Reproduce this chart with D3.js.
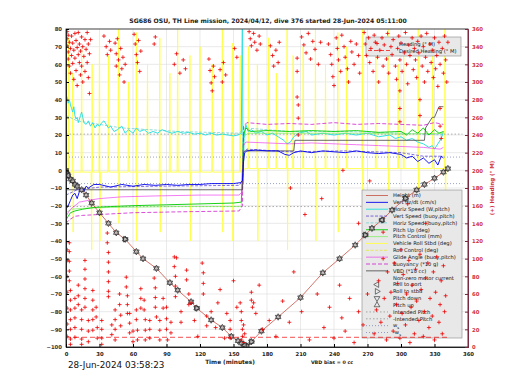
<!DOCTYPE html>
<html>
<head>
<meta charset="utf-8">
<script src="https://cdn.jsdelivr.net/npm/d3@7"></script>
<style>
  body { margin: 0; background: #fff; }
  text { font-family: "DejaVu Sans", sans-serif; }
</style>
</head>
<body>
<div id="chart"></div>
<script>
// ---- data (time in minutes) ----
const timeTicks = [0, 30, 60, 90, 120, 150, 180, 210, 240, 270, 300, 330, 360];
const valueTicks = [-100, -90, -80, -70, -60, -50, -40, -30, -20, -10, 0, 10, 20, 30, 40, 50, 60, 70, 80];
const headingTicks = [0, 20, 40, 60, 80, 100, 120, 140, 160, 180, 200, 220, 240, 260, 280, 300, 320, 340, 360];

const heightM = [[0,0],[1,-2],[2,-3],[4,-5],[6,-6],[8,-8],[10,-9],[14,-11],[18,-14],[23,-18.5],[30,-24],[38,-30],[45,-35.3],[53,-39],[63,-46],[69,-50],[81,-55.5],[93,-63.6],[100,-67.8],[112,-74.4],[117,-78],[130,-84.7],[140,-89],[148,-94],[154,-96.5],[157,-97.8],[160,-99],[162,-99.5],[166,-97],[175,-91],[190,-83],[210,-72],[230,-58],[245,-50],[259,-42.3],[268,-36.6],[274,-32.8],[283,-28.1],[292,-22.5],[304,-15.9],[314,-11.1],[321,-8],[330,-4.5],[338,-1],[342,1]];
const rollStbdMarks = [[53,-39],[117,-78],[166,-97],[268,-36.6],[304,-15.9]];
const rollPortMarks = [[2,-3],[160,-99],[283,-28.1]];

const vertDzDt = [[0,-22],[2,-20],[4,-17],[6,-14],[8,-13],[10,-16],[12,-12],[14,-10],[16,-12],[18,-9],[20,-10],[25,-8],[30,-8],[40,-9.5],[50,-8],[60,-9],[70,-8],[80,-8.5],[90,-8],[100,-8.5],[110,-8],[120,-8],[130,-7.5],[140,-7.5],[150,-7.5],[156,-7],[158,-6],[159,5],[160,10],[162,11],[170,11.5],[180,11],[190,11],[196,9],[200,8.5],[204,10],[210,11],[220,10],[230,11],[240,10.5],[250,10],[260,11],[270,10],[280,9.5],[290,10],[300,9],[305,7],[310,8],[315,5],[320,7],[325,4],[330,6],[333,3],[336,8],[338,7]];
const horizSpdW = [[0,43],[1,41],[2,38],[3,40],[4,37],[5,35],[6,33],[7,36],[8,31],[9,29],[10,30],[11,27],[12,29],[13,31],[14,33],[15,30],[16,27],[18,26],[20,28],[22,25],[24,27],[26,24],[28,26],[30,25],[32,27],[34,28],[36,26],[38,24],[40,25],[43,22],[46,23],[50,25],[53,21],[56,23],[60,21],[63,24],[66,22],[70,23],[74,21],[78,22],[82,21],[86,23],[90,22],[95,21],[100,22],[105,21],[110,21.5],[115,20.5],[120,21],[125,20],[130,21],[135,20],[140,20.5],[145,20],[150,19.5],[154,20],[157,21],[158,95],[158.6,-8],[159.5,18],[161,26],[163,22],[166,23],[170,21],[175,22],[180,20],[185,21],[190,19],[195,17],[198,15],[201,16],[204,19],[208,21],[215,22],[220,20],[230,21],[240,20],[250,21],[260,20],[270,21],[280,19],[290,20],[295,18],[300,19],[305,17],[310,18],[315,16],[320,15],[325,13],[328,14],[330,12],[333,15],[336,18],[338,22]];
const vertSpdBuoy = [[0,-14],[10,-11],[30,-9.5],[80,-9],[155,-8.5],[158,-6],[159,10],[162,12],[200,10.5],[250,11],[300,10],[320,8],[338,8]];
const horizSpdBuoy = [[0,31],[10,28],[20,27],[50,24],[100,22],[155,21],[160,24],[200,22],[250,22],[300,21],[338,20]];
const pitchUp = [[0,-28],[2,-26],[4,-24],[8,-23],[15,-22],[25,-21],[40,-20.5],[60,-20],[90,-19.5],[120,-19],[150,-18.5],[157,-18],[158,0],[159,20],[161,24],[165,22],[180,22.5],[200,22],[220,22.5],[240,22],[260,22.5],[280,21.5],[300,22],[305,20],[310,23],[315,21],[320,24],[325,20],[330,23],[334,21],[338,22]];
const pitchCtl = [[0,-24],[5,-22],[15,-21.5],[40,-21],[100,-20.5],[157,-20.5],[158,2],[159,19],[163,21],[200,21],[260,21],[300,20.5],[338,21]];
const rollStbd = [[0,-40],[0.5,60],[1,-2],[2,-1],[2.3,75],[2.6,-1],[5.5,-1],[6,55],[6.4,-35],[6.8,-1],[13.5,-1],[14,70],[14.4,-1],[22.5,-1],[23,-45],[23.4,60],[23.8,-1],[29.5,-1],[30,80],[30.4,-40],[30.8,-1],[37.5,-1],[38,65],[38.4,-1],[46.5,-1],[47,80],[47.4,-30],[47.8,-1],[55.5,-1],[56,50],[56.4,-1],[62.5,-1],[63,78],[63.4,-40],[63.8,-1],[72.5,-1],[73,60],[73.4,-1],[83.5,-1],[84,75],[84.4,-35],[84.8,-1],[92.5,-1],[93,55],[93.4,-1],[99.5,-1],[100,80],[100.4,-1],[110.5,-1],[111,65],[111.4,-40],[111.8,-1],[119.5,-1],[120,70],[120.4,-1],[130.5,-1],[131,60],[131.4,-1],[139.5,-1],[140,80],[140.4,-35],[140.8,-1],[148.5,-1],[149,72],[149.4,-40],[149.8,-1],[155.5,-1],[156,65],[156.4,-1],[158,-1],[160,1],[163,1],[163.4,70],[163.8,1],[171,1],[171.4,60],[171.8,-40],[172.2,1],[181,1],[181.4,75],[181.8,1],[188,1],[188.4,55],[188.8,1],[197.5,1],[198,80],[198.4,-45],[198.8,1],[203,1],[203.4,65],[203.8,1],[212,1],[212.4,70],[212.8,1],[223,1],[223.4,80],[223.8,-40],[224.2,1],[232,1],[232.4,60],[232.8,1],[243,1],[243.4,78],[243.8,-35],[244.2,1],[251,1],[251.4,70],[251.8,1],[265,1],[265.4,80],[265.8,-45],[266.2,1],[277,1],[277.4,65],[277.8,1],[288,1],[288.4,80],[288.8,-40],[289.2,1],[297,1],[297.4,60],[297.8,1],[302,1],[302.4,75],[302.8,1],[315,1],[315.4,80],[315.8,-40],[316.2,1],[328,1],[328.4,70],[328.8,1],[339,1],[339.4,80],[339.8,-35],[340.2,1],[341,1]];
const glideAngle = [[0,-26],[2,-24],[4,-22],[8,-20],[12,-18],[20,-17],[30,-16],[50,-15],[80,-14.5],[120,-14],[155,-14],[158,-12],[159,14],[161,16],[180,15.5],[200,15],[220,15.5],[240,15],[260,14.5],[280,14],[300,13.5],[320,13],[335,12],[338,13]];
const buoyancy = [[0,-30],[3,-28],[8,-26],[15,-25.5],[30,-25],[60,-24],[100,-23.5],[155,-23],[158,-20],[159,25],[162,27],[180,26],[200,26.5],[220,26],[240,27],[260,26],[280,26.5],[300,26],[320,25.5],[330,27],[338,26]];
const vbd = [[0,-11],[158,-11],[159,10],[160,11],[204,11],[205,17],[321,17],[322,24],[328,30],[330,30],[334,36],[338,36]];
const intendedPitch = [[0,20.5],[355,20.5]];
const negIntendedPitch = [[0,-20.5],[355,-20.5]];
const ws = [[0,7.5],[355,7.5]];
const negWs = [[0,-7.5],[355,-7.5]];

const desiredHeading = [[0,11],[342,11]];
const heading = [
  [1,357],[1,349],[1,341],[2,353],[2,334],[2,326],[3,345],[3,318],[4,338],[4,310],[5,352],[5,330],[6,344],[6,321],[7,336],[7,303],[8,355],[8,327],[9,347],[9,313],[10,339],[10,296],[11,331],[11,356],[12,322],[12,343],[13,308],[13,335],[14,351],[14,318],[15,340],[15,300],[16,329],[17,348],[17,312],[18,337],[19,356],[19,322],[20,343],[20,305],[21,332],[21,287],[22,348],
  [34,352],[36,340],[37,331],[39,346],[40,336],
  [44,344],[45,332],[45,318],[46,349],[47,325],[48,308],[49,338],[50,315],[51,328],[52,300],[53,320],
  [61,354],[62,343],[63,331],[64,322],[65,347],[66,312],[67,335],
  [79,343],[80,351],[97,320],[99,332],[102,310],[105,325],[107,315],
  [128,326],[129,313],[130,299],[131,290],[132,318],[133,306],[138,314],[140,300],[141,322],[143,308],[151,338],[153,328],
  [1,110],[1,98],[1,80],[1,62],[1,44],[1,26],[1,12],
  [3,118],[3,108],[3,97],[3,86],[3,75],[4,64],[4,53],[4,42],[4,31],[4,20],[4,9],[4,3],
  [8,55],[8,44],[8,33],[8,22],[8,11],[11,70],[11,58],[11,48],[14,42],[14,31],[14,20],[14,9],[14,3],
  [17,98],[17,88],[17,77],[17,66],[17,55],[17,45],[20,30],[20,18],[20,6],[24,64],[24,53],[24,42],[24,31],[24,19],
  [27,45],[27,34],[28,22],[28,10],[32,30],[32,20],[32,10],[32,3],[37,129],[37,118],[38,107],[38,96],[38,85],[38,74],[38,63],[38,57],
  [41,25],[41,14],[44,42],[44,31],[44,20],[44,8],[48,60],[48,48],[49,36],[49,24],[54,79],[54,68],[55,58],[55,48],[55,38],[57,38],[57,27],[57,16],
  [60,18],[60,6],[63,42],[63,31],[64,19],[64,8],[67,66],[67,55],[67,44],[70,53],[70,42],[71,31],[71,19],[71,8],
  [75,30],[75,20],[75,10],[79,78],[80,67],[80,56],[80,45],[81,34],[84,30],[84,19],[84,8],[87,55],[87,44],[90,45],[90,32],[90,20],[91,8],
  [94,28],[94,16],[97,102],[97,91],[98,80],[98,69],[98,57],[99,101],[103,40],[103,28],[108,87],[108,76],[110,60],[110,48],[112,50],[115,30],[118,12],
  [122,95],[123,84],[123,72],[123,60],[126,35],[126,24],[130,40],[134,22],[136,50],[138,65],[142,10],[144,38],[147,30],[147,20],[147,10],[150,75],[153,45],
  [156,50],[157,40],[157,30],[158,20],[158,12],[159,5],[159,25],[160,15],[157,8],[166,62],[166,53],[167,45],
  [164,357],[165,349],[166,341],[168,355],[169,345],[171,336],[173,352],[174,343],
  [183,341],[185,330],[186,318],[188,336],[190,322],[191,345],
  [207,327],[207,312],[207,283],[208,274],[208,259],[208,240],
  [211,351],[213,342],[215,333],[217,355],[219,326],[221,346],[223,337],[226,320],[228,345],
  [235,343],[237,331],[238,320],[239,306],[240,296],[242,350],[243,338],[244,325],[246,312],[247,353],[249,340],[250,328],[252,315],[253,300],[255,346],[256,334],[258,320],[260,343],[262,330],[263,310],
  [267,356],[268,343],[269,330],[271,350],[272,322],[273,338],[275,312],[276,353],[277,345],[279,328],[280,300],[281,336],[283,350],[284,318],[285,342],[287,326],[288,355],[289,310],[291,340],[292,331],[293,348],[295,318],[296,303],[297,338],[298,352],[299,325],[299,290],[299,270],[299,255],[300,344],[301,312],[303,333],[304,356],[305,320],[306,298],[307,342],[308,330],[310,350],[311,314],[312,338],[313,325],[314,305],[315,346],[316,333],[317,280],[317,262],[318,352],[319,318],[320,340],[321,300],[322,328],[323,355],[324,312],[326,343],[327,322],[328,336],[329,305],[330,350],[331,315],[332,330],[333,295],[334,345],[335,320],[335,270],[335,250],[336,236],[337,338],[338,310],[339,352],[340,325],[341,300],[342,345],
  [168,50],[170,38],[173,70],[176,20],[182,30],[188,12],[194,52],[200,28],[204,85],[211,40],[218,8],[225,60],[231,22],[236,45],[240,10],[245,70],[247,33],[250,18],[254,55],[258,5],[262,40],[266,25],[270,60],
  [276,15],[278,42],[280,75],[282,28],[284,100],[285,55],[287,8],[288,85],[290,35],[291,62],[293,18],[294,95],[296,48],[297,72],[299,10],[300,110],[301,38],[302,82],[304,25],[305,60],[307,98],[308,5],[309,45],[310,70],[312,15],[313,88],[314,52],[316,30],[317,105],[318,65],[320,12],[321,40],[322,78],[324,95],[325,22],[326,55],[328,35],[329,85],[330,8],[331,62],[332,102],[334,28],[335,48],[336,75],[337,15],[338,92],[339,40],[340,58],
  [201,180],[214,150],[229,168],[248,200],[262,140],[272,188],[284,130],[306,162],[322,140]
];

const legendLabels = ["Height (m)", "Vert dz/dt (cm/s)", "Horiz Speed (W,pitch)", "Vert Speed (buoy,pitch)",
  "Horiz Speed (buoy,pitch)", "Pitch Up (deg)", "Pitch Control (mm)", "Vehicle Roll Stbd (deg)", "Roll Control (deg)",
  "Glide Angle (buoy,pitch)", "Buoyancy (*10 g)", "VBD (*10 cc)", "Non-zero motor current", "Roll to port",
  "Roll to stbd", "Pitch down", "Pitch up", "Intended Pitch", "-Intended Pitch", "w", "-w"];
const headingLegend = ["Heading (\u00b0 M)", "Desired Heading (\u00b0 M)"];

// ---- layout ----
const W = 520, H = 390;
const L = 66, R = 468, T = 29, B = 347;

const svg = d3.select("#chart").append("svg")
    .attr("width", W).attr("height", H);

const x = d3.scaleLinear().domain([0, 360]).range([L, R]);
const y = d3.scaleLinear().domain([-100, 80]).range([B, T]);
const yh = d3.scaleLinear().domain([0, 360]).range([B, T]);

svg.append("clipPath").attr("id", "clip").append("rect")
    .attr("x", L).attr("y", T).attr("width", R - L).attr("height", B - T);

// grid
svg.append("g").selectAll("line").data(timeTicks).join("line")
    .attr("x1", d => x(d)).attr("x2", d => x(d)).attr("y1", T).attr("y2", B)
    .attr("stroke", "#dcdcdc").attr("stroke-width", 0.6);
svg.append("g").selectAll("line").data(valueTicks).join("line")
    .attr("x1", L).attr("x2", R).attr("y1", d => y(d)).attr("y2", d => y(d))
    .attr("stroke", "#dcdcdc").attr("stroke-width", 0.6);

const line = d3.line().x(d => x(d[0])).y(d => y(d[1]));
const linesG = svg.append("g").attr("clip-path", "url(#clip)");

function addLine(data, color, width, dash) {
    linesG.append("path").datum(data)
        .attr("fill", "none").attr("stroke", color).attr("stroke-width", width)
        .attr("stroke-dasharray", dash || null)
        .attr("d", line);
}

const styles = {
    height: ["#c0392b", 0.7, null],
    dzdt: ["#0000ee", 0.9, null],
    hspdW: ["#33e0e0", 1.0, null],
    vspdB: ["#4b2fd0", 0.7, "3,1.5"],
    hspdB: ["#66cccc", 0.7, "3,1.5"],
    pitch: ["#00cc00", 0.9, null],
    pitchCtl: ["#77ee55", 0.7, null],
    roll: ["#ffff44", 0.9, null],
    rollCtl: ["#e6e600", 0.6, "3,1.5"],
    glide: ["#ee44ee", 0.7, null],
    buoy: ["#cc00cc", 0.7, "4,2"],
    vbd: ["#444444", 0.8, null],
    intended: ["#777777", 0.6, "1.5,2"],
    ws: ["#5566aa", 0.6, "1,2"]
};

addLine(rollStbd, ...styles.roll);
addLine(intendedPitch, ...styles.intended);
addLine(negIntendedPitch, ...styles.intended);
addLine(ws, ...styles.ws);
addLine(negWs, ...styles.ws);
addLine(horizSpdBuoy, ...styles.hspdB);
addLine(horizSpdW, ...styles.hspdW);
addLine(pitchCtl, ...styles.pitchCtl);
addLine(pitchUp, ...styles.pitch);
addLine(buoyancy, ...styles.buoy);
addLine(glideAngle, ...styles.glide);
addLine(vbd, ...styles.vbd);
addLine(vertSpdBuoy, ...styles.vspdB);
addLine(vertDzDt, ...styles.dzdt);

// ---- legend (left-axis series) ----
const lg = svg.append("g");
lg.append("rect").attr("x", 362).attr("y", 190).attr("width", 100).attr("height", 148)
    .attr("fill", "#e8e8e8").attr("stroke", "#888").attr("stroke-width", 0.6);
const legendStyle = [styles.height, styles.dzdt, styles.hspdW, styles.vspdB, styles.hspdB, styles.pitch,
    styles.pitchCtl, styles.roll, styles.rollCtl, styles.glide, styles.buoy, styles.vbd,
    null, "left", "right", "down", "up", styles.intended, styles.intended, styles.ws, styles.ws];

const tri = d3.symbol().type(d3.symbolTriangle).size(14);
const rot = {up: 0, right: 90, down: 180, left: 270};

legendLabels.forEach((lab, i) => {
    const yy = 195.5 + i * 6.85;
    const st = legendStyle[i];
    if (Array.isArray(st)) {
        lg.append("line").attr("x1", 366).attr("x2", 388).attr("y1", yy).attr("y2", yy)
            .attr("stroke", st[0]).attr("stroke-width", st[1]).attr("stroke-dasharray", st[2]);
    } else if (typeof st === "string") {
        lg.append("path").attr("d", tri)
            .attr("transform", `translate(377,${yy}) rotate(${rot[st]})`)
            .attr("fill", "none").attr("stroke", "#222").attr("stroke-width", 0.6);
    }
    const t = lg.append("text").attr("x", 393).attr("y", yy + 1.8)
        .attr("font-size", 5.2).attr("fill", "#111").text(lab);
    if (i >= 19) t.append("tspan").attr("font-size", 3.6).attr("dy", 1.2).text("s");
});

// ---- depth V with pitch / roll markers ----
const marksG = svg.append("g").attr("clip-path", "url(#clip)");
marksG.append("path").datum(heightM)
    .attr("fill", "none").attr("stroke", styles.height[0]).attr("stroke-width", styles.height[1])
    .attr("d", line);

function marks(data, dir) {
    marksG.append("g").selectAll("path").data(data).join("path")
        .attr("d", tri)
        .attr("transform", d => `translate(${x(d[0])},${y(d[1])}) rotate(${rot[dir]})`)
        .attr("fill", "#bbb").attr("fill-opacity", 0.5)
        .attr("stroke", "#111").attr("stroke-width", 0.6);
}
marks(heightM, "down");
marks(heightM, "up");
marks(rollStbdMarks, "right");
marks(rollPortMarks, "left");

// ---- heading legend ----
const hg = svg.append("g");
hg.append("rect").attr("x", 366).attr("y", 37).attr("width", 95).attr("height", 19)
    .attr("fill", "#e8e8e8").attr("stroke", "#888").attr("stroke-width", 0.6);
hg.append("path").attr("d", "M375,43.5h4M377,41.5v4").attr("stroke", "#e00").attr("stroke-width", 0.8);
hg.append("line").attr("x1", 368).attr("x2", 392).attr("y1", 50.5).attr("y2", 50.5)
    .attr("stroke", "#e00").attr("stroke-width", 0.7).attr("stroke-dasharray", "4,2");
headingLegend.forEach((lab, i) => {
    hg.append("text").attr("x", 399).attr("y", 45.5 + i * 7)
        .attr("font-size", 5.2).attr("fill", "#111").text(lab);
});

// ---- heading (right axis) ----
const headG = svg.append("g").attr("clip-path", "url(#clip)");
const hline = d3.line().x(d => x(d[0])).y(d => yh(d[1]));
headG.append("path").datum(desiredHeading)
    .attr("fill", "none").attr("stroke", "#e00").attr("stroke-width", 0.7)
    .attr("stroke-dasharray", "5,3").attr("d", hline);
headG.append("g").selectAll("path").data(heading).join("path")
    .attr("d", d => `M${x(d[0]) - 2},${yh(d[1])}h4M${x(d[0])},${yh(d[1]) - 2}v4`)
    .attr("stroke", "#ee0000").attr("stroke-width", 0.8);

// ---- axes ----
svg.append("rect").attr("x", L).attr("y", T).attr("width", R - L).attr("height", B - T)
    .attr("fill", "none").attr("stroke", "#222").attr("stroke-width", 0.8);

const ax = svg.append("g").attr("transform", `translate(${L},0)`)
    .call(d3.axisLeft(y).tickValues(valueTicks).tickSize(-3).tickPadding(4));
const bx = svg.append("g").attr("transform", `translate(0,${B})`)
    .call(d3.axisBottom(x).tickValues(timeTicks).tickSize(-3).tickPadding(5));
const rx = svg.append("g").attr("transform", `translate(${R},0)`)
    .call(d3.axisRight(yh).tickValues(headingTicks).tickSize(-3).tickPadding(4));
[ax, bx, rx].forEach(g => {
    g.selectAll("text").attr("font-size", 5.3).attr("font-weight", "bold")
        .style("font-family", "DejaVu Sans, sans-serif");
    g.select(".domain").attr("stroke", "#222");
});
ax.selectAll("text").attr("fill", "#333");
bx.selectAll("text").attr("fill", "#222");
rx.selectAll("text").attr("fill", "#d03040");
rx.select(".domain").attr("stroke", "#7a2a40").attr("stroke-width", 1);
rx.selectAll(".tick line").attr("stroke", "#7a2a40");

// ---- texts ----
svg.append("text").attr("x", 268).attr("y", 23).attr("text-anchor", "middle")
    .attr("font-size", 6.1).attr("font-weight", "bold").attr("fill", "#222")
    .text("SG686 OSU, TH Line mission, 2024/04/12, dive 376 started 28-Jun-2024 05:11:00");
svg.append("text").attr("x", 230).attr("y", 364).attr("text-anchor", "middle")
    .attr("font-size", 5.8).attr("font-weight", "bold").attr("fill", "#222")
    .text("Time (minutes)");
svg.append("text").attr("x", 332).attr("y", 364).attr("text-anchor", "middle")
    .attr("font-size", 4.8).attr("font-weight", "bold").attr("fill", "#222")
    .text("VBD bias = 0 cc");
svg.append("text").attr("x", 68).attr("y", 368)
    .attr("font-size", 8.8).attr("fill", "#111")
    .text("28-Jun-2024 03:58:23");
svg.append("text").attr("transform", "translate(494,188) rotate(-90)")
    .attr("text-anchor", "middle").attr("font-size", 5.5).attr("font-weight", "bold")
    .attr("fill", "#d03040").text("(+) Heading (\u00b0 M)");
</script>
</body>
</html>
